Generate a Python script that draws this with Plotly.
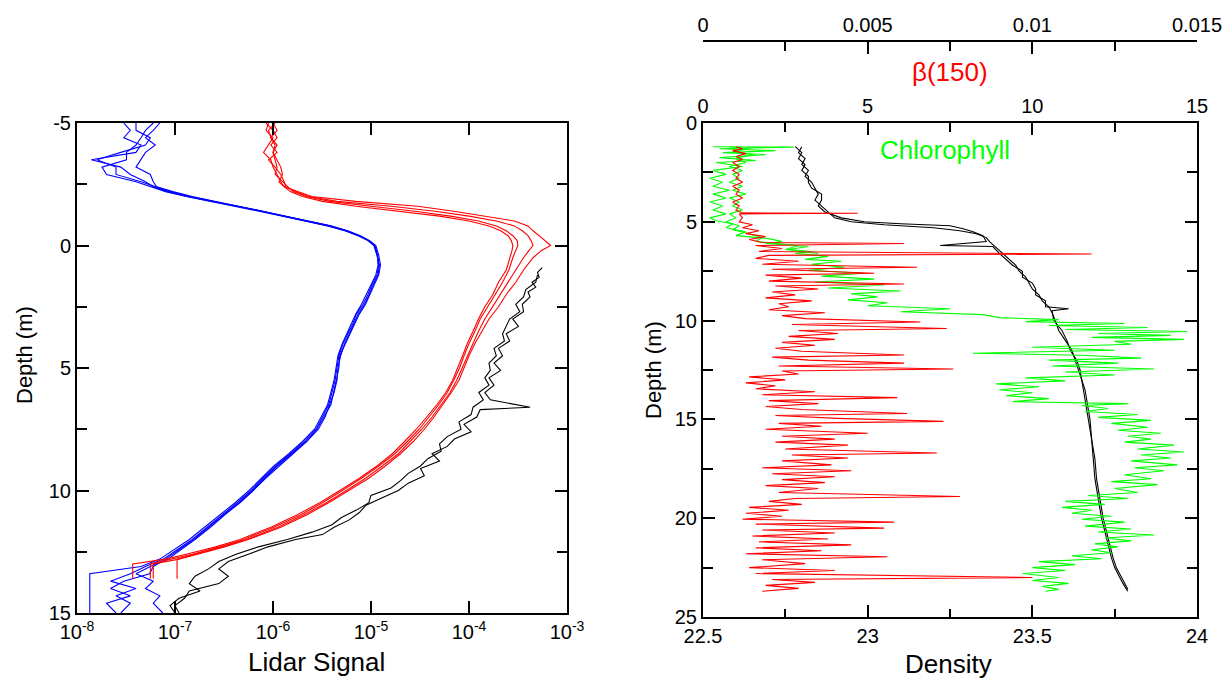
import plotly.graph_objects as go

# ---------------- left panel: lidar signal profiles ----------------
blue_depth = [-5.0, -4.7, -4.4, -4.1, -3.8, -3.5, -3.2, -2.9, -2.6, -2.4,
              -2.2, -2.0, -1.8, -1.6, -1.4, -1.2, -1.0, -0.8, -0.6, -0.4,
              -0.2, 0.0, 0.4, 0.8, 1.2, 1.6, 2.0, 2.4, 2.8, 3.2,
              3.6, 4.0, 4.5, 5.0, 5.5, 6.0, 6.5, 7.0, 7.5, 8.0,
              8.5, 9.0, 9.5, 10.0, 10.5, 11.0, 11.5, 12.0, 12.4, 12.8,
              13.1, 13.4, 13.7, 14.0, 14.3, 14.6, 15.0]
blue_1 = [4.0e-8, 4.0e-8, 5.6e-8, 5.0e-8, 2.8e-8, 1.6e-8, 2.5e-8, 2.5e-8, 4.5e-8, 6.3e-8,
          8.9e-8, 1.4e-7, 2.5e-7, 4.5e-7, 7.9e-7, 1.3e-6, 2.2e-6, 3.8e-6, 5.6e-6, 7.6e-6,
          9.5e-6, 1.1e-5, 1.17e-5, 1.2e-5, 1.15e-5, 1.02e-5, 9.3e-6, 8.3e-6, 7.1e-6, 6.5e-6,
          5.8e-6, 5.2e-6, 4.7e-6, 4.5e-6, 4.3e-6, 4.0e-6, 3.7e-6, 3.2e-6, 2.75e-6, 2.1e-6,
          1.5e-6, 1.07e-6, 7.9e-7, 6.0e-7, 4.3e-7, 3.0e-7, 2.1e-7, 1.5e-7, 1.07e-7, 7.6e-8,
          5.0e-8, 3.5e-8, 2.2e-8, 4.0e-8, 2.5e-8, 3.5e-8, 2.8e-8]
blue_2 = [6.0e-8, 5.0e-8, 4.5e-8, 4.0e-8, 3.2e-8, 3.2e-8, 1.8e-8, 2.0e-8, 4.0e-8, 5.6e-8,
          8.0e-8, 1.3e-7, 2.3e-7, 4.2e-7, 7.5e-7, 1.25e-6, 2.1e-6, 3.6e-6, 5.4e-6, 7.4e-6,
          9.3e-6, 1.07e-5, 1.15e-5, 1.22e-5, 1.18e-5, 1.05e-5, 9.6e-6, 8.6e-6, 7.4e-6, 6.6e-6,
          6.0e-6, 5.4e-6, 4.9e-6, 4.6e-6, 4.5e-6, 4.2e-6, 3.8e-6, 3.4e-6, 2.9e-6, 2.2e-6,
          1.6e-6, 1.15e-6, 8.4e-7, 6.3e-7, 4.6e-7, 3.2e-7, 2.3e-7, 1.6e-7, 1.15e-7, 8.5e-8,
          5.6e-8, 4.0e-8, 6.0e-8, 5.0e-8, 7.0e-8, 6.0e-8, 7.5e-8]
blue_3 = [3.0e-8, 3.5e-8, 3.0e-8, 4.5e-8, 4.0e-8, 1.4e-8, 2.8e-8, 3.5e-8, 5.0e-8, 6.0e-8,
          8.5e-8, 1.35e-7, 2.4e-7, 4.4e-7, 7.7e-7, 1.3e-6, 2.15e-6, 3.7e-6, 5.5e-6, 7.5e-6,
          9.4e-6, 1.08e-5, 1.16e-5, 1.18e-5, 1.12e-5, 1.0e-5, 9.0e-6, 8.0e-6, 7.0e-6, 6.3e-6,
          5.6e-6, 5.1e-6, 4.6e-6, 4.4e-6, 4.2e-6, 3.9e-6, 3.6e-6, 3.1e-6, 2.65e-6, 2.0e-6,
          1.45e-6, 1.02e-6, 7.6e-7, 5.7e-7, 4.1e-7, 2.9e-7, 2.0e-7, 1.4e-7, 1.0e-7, 7.0e-8,
          4.5e-8, 1.35e-8, 1.35e-8, 1.35e-8, 1.35e-8, 1.35e-8, 1.35e-8]
blue_4 = [7.0e-8, 6.0e-8, 5.0e-8, 6.3e-8, 5.0e-8, 4.5e-8, 4.0e-8, 5.6e-8, 6.0e-8, 6.5e-8,
          9.5e-8, 1.5e-7, 2.6e-7, 4.7e-7, 8.2e-7, 1.35e-6, 2.3e-6, 3.9e-6, 5.8e-6, 7.8e-6,
          9.7e-6, 1.12e-5, 1.2e-5, 1.25e-5, 1.2e-5, 1.08e-5, 9.8e-6, 8.8e-6, 7.6e-6, 6.8e-6,
          6.1e-6, 5.5e-6, 4.8e-6, 4.7e-6, 4.4e-6, 4.1e-6, 3.9e-6, 3.3e-6, 2.8e-6, 2.2e-6,
          1.55e-6, 1.1e-6, 8.2e-7, 6.2e-7, 4.5e-7, 3.1e-7, 2.2e-7, 1.55e-7, 1.12e-7, 8.0e-8,
          6.0e-8, 5.5e-8, 3.0e-8, 2.2e-8, 3.5e-8, 2.0e-8, 2.5e-8]

red_depth = [-5.0, -4.7, -4.4, -4.1, -3.8, -3.5, -3.2, -2.9, -2.6, -2.4,
             -2.2, -2.0, -1.8, -1.6, -1.4, -1.2, -1.0, -0.8, -0.6, -0.4,
             -0.2, 0.0, 0.2, 0.5, 1.0, 1.5, 2.0, 2.5, 3.0, 3.5,
             4.0, 4.5, 5.0, 5.5, 6.0, 6.5, 7.0, 7.5, 8.0, 8.5,
             9.0, 9.5, 10.0, 10.5, 11.0, 11.5, 12.0, 12.3, 12.6, 12.8,
             13.0, 13.2, 13.6]
red_1 = [9.0e-7, 8.5e-7, 1.0e-6, 9.0e-7, 8.0e-7, 9.5e-7, 1.0e-6, 1.1e-6, 1.2e-6, 1.3e-6,
         1.5e-6, 2.0e-6, 3.2e-6, 7.0e-6, 2.0e-5, 5.0e-5, 1.0e-4, 1.6e-4, 2.1e-4, 2.5e-4,
         2.7e-4, 2.8e-4, 2.75e-4, 2.6e-4, 2.4e-4, 2.0e-4, 1.75e-4, 1.45e-4, 1.25e-4, 1.1e-4,
         9.6e-5, 8.6e-5, 7.6e-5, 6.8e-5, 5.8e-5, 4.7e-5, 3.7e-5, 2.9e-5, 2.2e-5, 1.65e-5,
         1.15e-5, 7.6e-6, 4.8e-6, 3.0e-6, 1.75e-6, 9.5e-7, 4.6e-7, 2.6e-7, 1.3e-7, 8.0e-8,
         3.7e-8, 3.7e-8, 3.7e-8]
red_2 = [1.05e-6, 9.0e-7, 9.5e-7, 1.1e-6, 1.0e-6, 1.05e-6, 1.1e-6, 1.05e-6, 1.25e-6, 1.4e-6,
         1.6e-6, 2.2e-6, 3.8e-6, 1.0e-5, 2.8e-5, 6.5e-5, 1.25e-4, 1.9e-4, 2.4e-4, 2.8e-4,
         3.1e-4, 3.15e-4, 3.0e-4, 2.8e-4, 2.55e-4, 2.2e-4, 1.85e-4, 1.55e-4, 1.3e-4, 1.15e-4,
         1.0e-4, 8.9e-5, 8.0e-5, 7.0e-5, 6.0e-5, 4.9e-5, 3.9e-5, 3.1e-5, 2.35e-5, 1.75e-5,
         1.2e-5, 8.0e-6, 5.1e-6, 3.2e-6, 1.9e-6, 1.02e-6, 5.0e-7, 2.9e-7, 1.5e-7, 9.0e-8,
         5.6e-8, 5.6e-8, 5.6e-8]
red_3 = [8.5e-7, 1.0e-6, 1.1e-6, 9.5e-7, 1.1e-6, 9.0e-7, 1.05e-6, 1.2e-6, 1.3e-6, 1.35e-6,
         1.7e-6, 2.3e-6, 4.5e-6, 1.6e-5, 4.5e-5, 1.0e-4, 1.9e-4, 2.9e-4, 3.5e-4, 4.0e-4,
         4.3e-4, 4.5e-4, 4.1e-4, 3.6e-4, 3.0e-4, 2.5e-4, 2.1e-4, 1.75e-4, 1.45e-4, 1.25e-4,
         1.1e-4, 9.6e-5, 8.6e-5, 7.5e-5, 6.4e-5, 5.2e-5, 4.2e-5, 3.3e-5, 2.5e-5, 1.9e-5,
         1.3e-5, 8.8e-6, 5.6e-6, 3.5e-6, 2.05e-6, 1.12e-6, 5.4e-7, 3.0e-7, 1.6e-7, 1.05e-7,
         1.05e-7, 1.05e-7, 1.05e-7]
red_4 = [1.0e-6, 1.1e-6, 9.5e-7, 1.05e-6, 1.0e-6, 1.1e-6, 1.2e-6, 1.25e-6, 1.15e-6, 1.3e-6,
         1.8e-6, 2.5e-6, 7.0e-6, 3.0e-5, 7.0e-5, 1.4e-4, 2.9e-4, 4.0e-4, 4.5e-4, 5.2e-4,
         6.0e-4, 6.8e-4, 5.5e-4, 4.5e-4, 3.6e-4, 3.0e-4, 2.4e-4, 2.0e-4, 1.6e-4, 1.35e-4,
         1.15e-4, 1.0e-4, 8.9e-5, 7.9e-5, 6.6e-5, 5.4e-5, 4.4e-5, 3.5e-5, 2.7e-5, 2.0e-5,
         1.4e-5, 9.5e-6, 6.0e-6, 3.7e-6, 2.2e-6, 1.2e-6, 5.6e-7, 3.2e-7, 1.7e-7, 1.1e-7,
         6.0e-8, 6.0e-8, 6.0e-8]

black_depth_1 = [0.9, 1.1, 1.3, 1.5, 1.7, 1.9, 2.1, 2.4, 2.7, 3.0,
                 3.3, 3.6, 3.9, 4.2, 4.5, 4.8, 5.1, 5.4, 5.7, 6.0,
                 6.3, 6.6, 6.7, 7.0, 7.3, 7.6, 7.9, 8.2, 8.5, 8.8,
                 9.1, 9.4, 9.7, 10.0, 10.3, 10.6, 10.9, 11.2, 11.5, 11.8,
                 12.0, 12.3, 12.6, 12.9, 13.2, 13.5, 13.8, 14.1, 14.4, 14.7,
                 15.0]
black_1 = [5.6e-4, 5.0e-4, 5.2e-4, 4.4e-4, 4.8e-4, 4.0e-4, 4.2e-4, 3.5e-4, 3.6e-4, 2.8e-4,
           3.2e-4, 2.4e-4, 2.6e-4, 2.0e-4, 2.2e-4, 1.8e-4, 2.1e-4, 1.6e-4, 1.8e-4, 1.45e-4,
           1.65e-4, 4.2e-4, 1.3e-4, 1.2e-4, 8.9e-5, 1.05e-4, 7.1e-5, 6.0e-5, 4.2e-5, 5.0e-5,
           3.2e-5, 3.5e-5, 2.4e-5, 1.9e-5, 1.3e-5, 8.9e-6, 7.6e-6, 6.0e-6, 4.2e-6, 3.2e-6,
           1.7e-6, 8.9e-7, 5.6e-7, 3.5e-7, 2.8e-7, 3.5e-7, 2.8e-7, 1.4e-7, 1.25e-7, 1.0e-7,
           1.1e-7]
black_depth_2 = [1.2, 1.5, 1.8, 2.1, 2.4, 2.7, 3.0, 3.3, 3.6, 3.9,
                 4.2, 4.5, 4.8, 5.1, 5.4, 5.7, 6.0, 6.3, 6.6, 6.9,
                 7.2, 7.5, 7.8, 8.1, 8.4, 8.7, 9.0, 9.3, 9.6, 9.9,
                 10.2, 10.5, 10.8, 11.1, 11.4, 11.7, 12.0, 12.3, 12.6, 12.9,
                 13.2, 13.5, 13.8, 14.1, 14.4, 14.7, 15.0]
black_2 = [5.0e-4, 4.8e-4, 3.8e-4, 3.6e-4, 3.0e-4, 3.3e-4, 2.6e-4, 2.4e-4, 2.2e-4, 2.3e-4,
           1.8e-4, 1.9e-4, 1.6e-4, 1.65e-4, 1.45e-4, 1.6e-4, 1.26e-4, 1.4e-4, 1.1e-4, 1.05e-4,
           7.9e-5, 8.3e-5, 6.0e-5, 5.0e-5, 5.2e-5, 3.8e-5, 3.2e-5, 2.4e-5, 2.0e-5, 1.6e-5,
           1.0e-5, 9.5e-6, 7.1e-6, 5.0e-6, 4.0e-6, 2.5e-6, 1.4e-6, 7.1e-7, 4.2e-7, 2.8e-7,
           2.2e-7, 1.6e-7, 1.4e-7, 1.8e-7, 1.1e-7, 8.9e-8, 1.0e-7]

# ---------------- right panel: density, chlorophyll, beta(150) ----------------
dens_depth_1 = [1.2, 1.5, 1.8, 2.1, 2.4, 2.7, 3.0, 3.3, 3.6, 3.9,
                4.2, 4.5, 4.8, 5.0, 5.15, 5.3, 5.45, 5.6, 5.8, 6.0,
                6.3, 6.6, 6.9, 7.2, 7.5, 7.8, 8.1, 8.4, 8.7, 9.0,
                9.3, 9.6, 10.0, 10.5, 11.0, 11.5, 12.0, 12.5, 13.0, 13.5,
                14.0, 15.0, 16.0, 17.0, 18.0, 19.0, 20.0, 21.0, 22.0, 22.5,
                23.0, 23.3, 23.7]
dens_1 = [22.80, 22.79, 22.81, 22.80, 22.82, 22.81, 22.83, 22.84, 22.85, 22.84,
          22.86, 22.88, 22.90, 22.95, 23.05, 23.20, 23.28, 23.33, 23.36, 23.37,
          23.39, 23.41, 23.43, 23.45, 23.46, 23.48, 23.49, 23.50, 23.52, 23.53,
          23.55, 23.56, 23.57, 23.58, 23.60, 23.62, 23.63, 23.64, 23.65, 23.655,
          23.66, 23.67, 23.68, 23.685, 23.69, 23.70, 23.71, 23.725, 23.74, 23.75,
          23.765, 23.775, 23.79]
dens_depth_2 = [1.2, 1.5, 1.8, 2.1, 2.4, 2.7, 3.0, 3.3, 3.6, 3.9,
                4.2, 4.5, 4.8, 5.0, 5.1, 5.2, 5.35, 5.5, 5.7, 6.0,
                6.2, 6.25, 6.6, 6.9, 7.2, 7.5, 7.8, 8.1, 8.4, 8.7,
                9.0, 9.3, 9.4, 9.5, 10.0, 10.5, 11.0, 11.5, 12.0, 12.5,
                13.0, 13.5, 14.0, 15.0, 16.0, 17.0, 18.0, 19.0, 20.0, 21.0,
                22.0, 22.5, 23.0, 23.3, 23.6]
dens_2 = [22.78, 22.80, 22.79, 22.81, 22.80, 22.82, 22.82, 22.83, 22.86, 22.86,
          22.85, 22.87, 22.92, 22.99, 23.10, 23.25, 23.29, 23.32, 23.35, 23.36,
          23.22, 23.38, 23.40, 23.42, 23.44, 23.47, 23.47, 23.50, 23.51, 23.51,
          23.54, 23.54, 23.61, 23.56, 23.565, 23.59, 23.605, 23.615, 23.635, 23.645,
          23.65, 23.66, 23.665, 23.675, 23.68, 23.69, 23.695, 23.705, 23.715, 23.73,
          23.745, 23.755, 23.77, 23.78, 23.79]

chl_depth_1 = [1.2, 1.22, 1.3, 1.4, 1.5, 1.6, 1.75, 1.9, 2.0, 2.2,
               2.4, 2.6, 2.8, 3.0, 3.2, 3.4, 3.6, 3.8, 4.0, 4.2,
               4.4, 4.6, 4.8, 4.95, 5.1, 5.3, 5.5, 5.7, 5.85, 6.0,
               6.1, 6.25, 6.4, 6.5, 6.6, 6.75, 6.9, 7.0, 7.15, 7.3,
               7.45, 7.6, 7.75, 7.9, 8.05, 8.2, 8.35, 8.5, 8.65, 8.8,
               8.95, 9.1, 9.25, 9.4, 9.55, 9.7, 9.85, 9.95, 10.05, 10.15,
               10.25, 10.35, 10.45, 10.55, 10.65, 10.75, 10.85, 10.95, 11.05, 11.2,
               11.35, 11.5, 11.65, 11.75, 11.9, 12.0, 12.15, 12.3, 12.45, 12.6,
               12.75, 12.9, 13.05, 13.2, 13.35, 13.5, 13.65, 13.8, 13.95, 14.1,
               14.2, 14.3, 14.45, 14.6, 14.75, 14.9, 15.05, 15.2, 15.4, 15.55,
               15.7, 15.85, 16.0, 16.15, 16.3, 16.5, 16.65, 16.8, 16.95, 17.1,
               17.3, 17.45, 17.6, 17.8, 18.0, 18.15, 18.3, 18.5, 18.7, 18.85,
               19.0, 19.15, 19.3, 19.45, 19.6, 19.75, 19.9, 20.05, 20.2, 20.4,
               20.55, 20.7, 20.85, 21.0, 21.15, 21.3, 21.45, 21.6, 21.75, 21.9,
               22.05, 22.2, 22.35, 22.5, 22.65, 22.8, 23.0, 23.15, 23.3, 23.45,
               23.6, 23.7]
chl_1 = [0.3, 2.75, 0.5, 2.2, 0.6, 1.9, 0.5, 1.6, 0.4, 1.2,
         0.3, 0.7, 0.2, 0.6, 0.3, 0.8, 0.3, 0.7, 0.2, 0.6,
         0.3, 0.7, 0.2, 0.4, 0.9, 0.7, 1.3, 1.0, 2.0, 2.4,
         1.9, 3.2, 2.6, 3.3, 2.8, 3.8, 3.1, 4.2, 3.3, 4.3,
         3.2, 4.9, 3.6, 5.2, 3.4, 5.5, 3.8, 6.0, 4.5, 5.3,
         4.4, 5.6, 5.0, 7.5, 6.0, 8.5, 9.0, 10.8, 9.8, 12.8,
         10.5, 13.5, 11.0, 14.7, 12.0, 14.2, 11.8, 14.6, 12.5, 13.0,
         10.0, 12.5, 8.2, 11.5, 13.3, 10.5, 12.6, 10.6, 13.7, 11.0,
         12.5, 9.8, 11.0, 8.9, 10.2, 9.0, 10.0, 9.2, 10.5, 9.4,
         12.9, 11.5, 12.3, 11.6, 13.2, 12.0, 13.6, 12.4, 13.5, 12.6,
         13.9, 12.9, 13.6, 12.8, 14.3, 13.2, 14.6, 13.3, 14.2, 13.0,
         14.4, 13.1, 14.0, 12.8, 13.6, 12.4, 13.8, 12.5, 13.2, 11.7,
         12.9, 11.0, 12.2, 10.9, 11.8, 11.2, 12.4, 11.5, 12.8, 11.6,
         13.0, 12.0, 13.7, 12.2, 13.0, 11.9, 12.6, 11.8, 12.4, 11.2,
         12.1, 10.2, 11.3, 10.0, 11.0, 9.7, 10.8, 10.0, 11.1, 10.3,
         10.8, 10.4]
chl_depth_2 = [1.2, 1.3, 1.45, 1.6, 1.8, 2.0, 2.2, 2.4, 2.6, 2.8,
               3.0, 3.2, 3.4, 3.6, 3.8, 4.0, 4.2, 4.4, 4.6, 4.8,
               5.0, 5.2, 5.4, 5.6, 5.8, 6.0, 6.2, 6.4, 6.6]
chl_2 = [0.8, 1.4, 0.9, 1.5, 1.0, 1.3, 0.8, 1.2, 0.9, 1.1,
         0.8, 1.2, 0.9, 1.3, 0.8, 1.1, 0.9, 1.2, 0.8, 1.0,
         0.7, 1.1, 0.9, 1.4, 1.8, 1.6, 2.9, 2.5, 3.5]

beta_depth = [1.2, 1.3, 1.4, 1.55, 1.7, 1.85, 2.0, 2.2, 2.4, 2.6,
              2.8, 3.0, 3.2, 3.4, 3.6, 3.8, 4.0, 4.2, 4.4, 4.55,
              4.57, 4.6, 4.8, 5.0, 5.15, 5.3, 5.45, 5.6, 5.75, 5.9,
              6.05, 6.1, 6.2, 6.35, 6.5, 6.63, 6.7, 6.85, 7.0, 7.15,
              7.3, 7.4, 7.6, 7.7, 7.85, 8.0, 8.15, 8.25, 8.4, 8.55,
              8.7, 8.85, 9.0, 9.15, 9.3, 9.45, 9.6, 9.75, 9.9, 10.07,
              10.2, 10.4, 10.5, 10.65, 10.8, 10.95, 11.1, 11.25, 11.4, 11.55,
              11.74, 11.85, 12.0, 12.15, 12.3, 12.45, 12.55, 12.7, 12.85, 13.0,
              13.15, 13.3, 13.45, 13.6, 13.75, 13.9, 14.05, 14.2, 14.35, 14.5,
              14.7, 14.8, 14.95, 15.1, 15.2, 15.35, 15.5, 15.7, 15.85, 16.0,
              16.15, 16.3, 16.5, 16.7, 16.8, 16.95, 17.1, 17.3, 17.45, 17.6,
              17.75, 17.9, 18.05, 18.2, 18.35, 18.5, 18.7, 18.9, 19.0, 19.15,
              19.3, 19.45, 19.6, 19.75, 19.9, 20.05, 20.2, 20.3, 20.5, 20.6,
              20.75, 20.9, 21.05, 21.2, 21.35, 21.5, 21.65, 21.8, 21.95, 22.1,
              22.3, 22.5, 22.65, 22.8, 23.0, 23.1, 23.25, 23.4, 23.55, 23.7]
beta = [0.0010, 0.0012, 0.0009, 0.0013, 0.0010, 0.0012, 0.0009, 0.0011, 0.0009, 0.0011,
        0.0010, 0.0012, 0.0009, 0.0011, 0.0010, 0.0012, 0.0009, 0.0011, 0.0010, 0.0012,
        0.0047, 0.0011, 0.0012, 0.0011, 0.0015, 0.0012, 0.0017, 0.0013, 0.0019, 0.0014,
        0.0018, 0.0061, 0.0016, 0.0024, 0.0017, 0.0118, 0.0020, 0.0016, 0.0029, 0.0018,
        0.0065, 0.0021, 0.0052, 0.0019, 0.0030, 0.0020, 0.0061, 0.0022, 0.0035, 0.0021,
        0.0028, 0.0019, 0.0033, 0.0023, 0.0026, 0.0020, 0.0037, 0.0024, 0.0031, 0.0066,
        0.0027, 0.0074, 0.0029, 0.0041, 0.0026, 0.0040, 0.0024, 0.0034, 0.0022, 0.0030,
        0.0061, 0.0021, 0.0032, 0.0061, 0.0023, 0.0076, 0.0024, 0.0029, 0.0014, 0.0025,
        0.0013, 0.0022, 0.0016, 0.0034, 0.0018, 0.0059, 0.0020, 0.0035, 0.0019, 0.0030,
        0.0062, 0.0022, 0.0041, 0.0073, 0.0023, 0.0036, 0.0019, 0.0050, 0.0024, 0.0040,
        0.0022, 0.0044, 0.0025, 0.0071, 0.0027, 0.0044, 0.0024, 0.0039, 0.0018, 0.0045,
        0.0021, 0.0040, 0.0024, 0.0037, 0.0019, 0.0035, 0.0023, 0.0078, 0.0028, 0.0020,
        0.0030, 0.0014, 0.0026, 0.0013, 0.0024, 0.0012, 0.0058, 0.0016, 0.0055, 0.0018,
        0.0040, 0.0015, 0.0038, 0.0017, 0.0045, 0.0016, 0.0036, 0.0013, 0.0056, 0.0018,
        0.0031, 0.0014, 0.0040, 0.0016, 0.0100, 0.0021, 0.0034, 0.0019, 0.0029, 0.0018]

lidar_ticks = [1e-8, 1e-7, 1e-6, 1e-5, 1e-4, 1e-3]
lidar_labels = ["10<sup>-8</sup>", "10<sup>-7</sup>", "10<sup>-6</sup>",
                "10<sup>-5</sup>", "10<sup>-4</sup>", "10<sup>-3</sup>"]

FONT = "Liberation Sans, Arial, sans-serif"
W, H = 1229, 682
GREEN = "#00ff00"


def line(x, y, color, xa, ya):
    return go.Scatter(x=x, y=y, xaxis=xa, yaxis=ya, mode="lines",
                      line=dict(color=color, width=1.1), showlegend=False,
                      hoverinfo="skip")


fig = go.Figure()
for s in [blue_1, blue_2, blue_3, blue_4]:
    fig.add_trace(line(s, blue_depth, "#0000ff", "x", "y"))
for s in [red_1, red_2, red_3, red_4]:
    fig.add_trace(line(s, red_depth, "#ff0000", "x", "y"))
fig.add_trace(line(black_1, black_depth_1, "black", "x", "y"))
fig.add_trace(line(black_2, black_depth_2, "black", "x", "y"))

fig.add_trace(line(chl_1, chl_depth_1, GREEN, "x3", "y2"))
fig.add_trace(line(chl_2, chl_depth_2, GREEN, "x3", "y2"))
fig.add_trace(line(beta, beta_depth, "#ff0000", "x4", "y2"))
fig.add_trace(line(dens_1, dens_depth_1, "black", "x2", "y2"))
fig.add_trace(line(dens_2, dens_depth_2, "black", "x2", "y2"))

axis_common = dict(showline=True, linecolor="black", linewidth=2, showgrid=False,
                   zeroline=False, ticks="inside", ticklen=12, tickwidth=1.5,
                   tickcolor="black", automargin=False,
                   tickfont=dict(family=FONT, size=20, color="black"))


def minor(vals, length=9):
    return dict(tickmode="array", tickvals=vals, ticks="inside", ticklen=length,
                tickwidth=1.5, tickcolor="black", showgrid=False)


left_dom = [77 / W, 567 / W]
right_dom = [703 / W, 1197 / W]

fig.update_layout(
    width=W, height=H,
    margin=dict(l=0, r=0, t=0, b=0),
    paper_bgcolor="white", plot_bgcolor="white",
    showlegend=False,
    xaxis=dict(axis_common, type="log", range=[-8, -3], domain=left_dom, anchor="y",
               tickmode="array", tickvals=lidar_ticks, ticktext=lidar_labels,
               mirror="ticks"),
    yaxis=dict(axis_common, range=[15, -5], domain=[(H - 613) / H, (H - 123) / H],
               anchor="x", tickmode="array", tickvals=[-5, 0, 5, 10, 15],
               ticktext=["-5", "0", "5", "10", "15"], mirror="ticks",
               minor=minor([-2.5, 2.5, 7.5, 12.5], 10)),
    xaxis2=dict(axis_common, range=[22.5, 24], domain=right_dom, anchor="y2",
                tickmode="array", tickvals=[22.5, 23, 23.5, 24],
                ticktext=["22.5", "23", "23.5", "24"],
                minor=minor([22.75, 23.25, 23.75], 8)),
    xaxis3=dict(axis_common, range=[0, 15], overlaying="x2", side="top", anchor="y2",
                tickmode="array", tickvals=[0, 5, 10, 15],
                ticktext=["0", "5", "10", "15"],
                minor=minor([2.5, 7.5, 12.5], 9)),
    xaxis4=dict(axis_common, range=[0, 0.015], overlaying="x2", side="top",
                anchor="free", position=(H - 41) / H,
                tickmode="array", tickvals=[0, 0.005, 0.01, 0.015],
                ticktext=["0", "0.005", "0.01", "0.015"],
                minor=minor([0.0025, 0.0075, 0.0125], 9)),
    yaxis2=dict(axis_common, range=[25, 0], domain=[(H - 617) / H, (H - 123) / H],
                anchor="x2", tickmode="array", tickvals=[0, 5, 10, 15, 20, 25],
                ticktext=["0", "5", "10", "15", "20", "25"], mirror="ticks",
                minor=minor([2.5, 7.5, 12.5, 17.5, 22.5], 10)),
)

titles = [
    ("Depth (m)", 24, 355, -90, "black", 22),
    ("Lidar Signal", 316, 662, 0, "black", 26),
    ("Depth (m)", 653, 370, -90, "black", 22),
    ("Density", 948, 664, 0, "black", 26),
    ("\u03b2(150)", 950, 72, 0, "#ff0000", 26),
    ("Chlorophyll", 945, 150, 0, GREEN, 26),
]
for text, px, py, ang, col, size in titles:
    fig.add_annotation(text=text, x=px / W, y=(H - py) / H, xref="paper", yref="paper",
                       showarrow=False, textangle=ang, xanchor="center", yanchor="middle",
                       font=dict(family=FONT, size=size, color=col))

# drop the browser's default body margin so the figure sits at the page corner
fig.write_html("out.html", config={"displayModeBar": False},
               post_script="document.body.style.margin='0';document.body.style.overflow='hidden';")
